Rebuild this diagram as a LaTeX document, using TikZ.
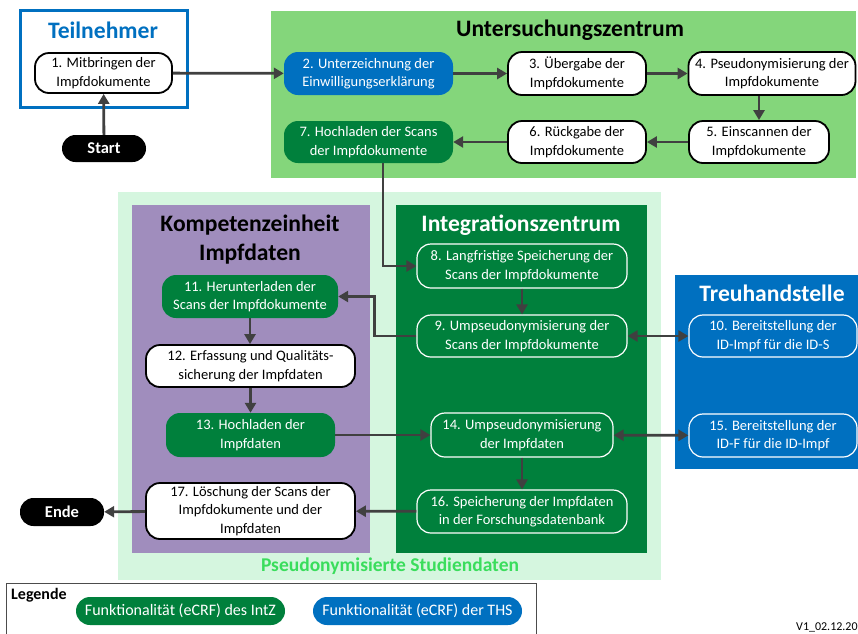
\documentclass[tikz,border=0pt]{standalone}
\usepackage{fontspec}
\setmainfont{Carlito}
\usetikzlibrary{arrows.meta}

\definecolor{uzgreen}{HTML}{84D67B}
\definecolor{mint}{HTML}{D5F6DF}
\definecolor{violet}{HTML}{A08DBD}
\definecolor{dkgreen}{HTML}{00803C}
\definecolor{thsblue}{HTML}{0070C0}
\definecolor{titlegreen}{HTML}{3ADD5C}
\definecolor{arrowgrey}{HTML}{404040}

\tikzset{
  txt/.style={font=\fontsize{14.5}{18.5}\selectfont, align=center, inner sep=0pt},
  proc/.style={txt, draw=black, line width=1.8pt, fill=white, rounded corners=14pt},
  intz/.style={txt, fill=dkgreen, text=white, rounded corners=14pt},
  intzb/.style={intz, draw=white, line width=1.2pt},
  ths/.style={txt, fill=thsblue, text=white, rounded corners=14pt},
  thsb/.style={ths, draw=white, line width=1.2pt},
  terminal/.style={txt, fill=black, text=white, font=\fontsize{16.5}{20}\selectfont\bfseries, rounded corners=13.5pt},
  legpill/.style={font=\fontsize{16}{19}\selectfont, minimum width=209pt, minimum height=28pt, rounded corners=14pt},
  areatitle/.style={font=\fontsize{23.6}{28}\selectfont\bfseries, align=center, inner sep=0pt},
  arr/.style={draw=arrowgrey, line width=2.8pt, -{Triangle[length=10pt,width=11pt]}},
  darr/.style={draw=arrowgrey, line width=2.8pt, {Triangle[length=10pt,width=11pt]}-{Triangle[length=10pt,width=11pt]}},
}

\begin{document}
\begin{tikzpicture}[x=1pt,y=-1pt]
\useasboundingbox (0,0) rectangle (858,633);

% organisational areas
\fill[uzgreen] (271,11) rectangle (856,178);
\draw[thsblue, line width=3pt] (20,10) rectangle (187,107);
\fill[mint] (118,192) rectangle (661,580);
\fill[violet] (132,205) rectangle (370,553);
\fill[dkgreen] (396,205) rectangle (647,553);
\fill[thsblue] (675,275) rectangle (858,469);

\node[areatitle, text=thsblue] (tTN) at (103,30) {Teilnehmer};
\node[areatitle] (tUZ) at (570,30) {Untersuchungszentrum};
\node[areatitle] (tKE) at (250,240) {Kompetenzeinheit\\[1pt]Impfdaten};
\node[areatitle, text=white] (tIZ) at (521,225) {Integrationszentrum};
\node[areatitle, text=white] (tTH) at (772,293) {Treuhandstelle};
\node[areatitle, text=titlegreen, font=\fontsize{19.5}{23}\selectfont\bfseries] (tPS) at (390,566) {Pseudonymisierte Studiendaten};

% process steps
\node[proc, minimum width=137pt, minimum height=40pt] (n1) at (103.5,73) {1. Mitbringen der\\Impfdokumente};
\node[terminal, minimum width=84pt, minimum height=27pt] (start) at (104,148.5) {Start};
\node[ths, minimum width=169pt, minimum height=43pt] (n2) at (368.5,73.5) {2. Unterzeichnung der\\Einwilligungserklärung};
\node[proc, minimum width=138pt, minimum height=43pt] (n3) at (577,73.5) {3. Übergabe der\\Impfdokumente};
\node[proc, minimum width=167pt, minimum height=43pt] (n4) at (772,73.5) {4. Pseudonymisierung der\\Impfdokumente};
\node[proc, minimum width=140pt, minimum height=42pt] (n5) at (759,142) {5. Einscannen der\\Impfdokumente};
\node[proc, minimum width=138pt, minimum height=42pt] (n6) at (577,142) {6. Rückgabe der\\Impfdokumente};
\node[intz, minimum width=169pt, minimum height=42pt] (n7) at (368.5,142) {7. Hochladen der Scans\\der Impfdokumente};
\node[intzb, minimum width=210pt, minimum height=44pt] (n8) at (522,266) {8. Langfristige Speicherung der\\Scans der Impfdokumente};
\node[intzb, minimum width=210pt, minimum height=42pt] (n9) at (522,336) {9. Umpseudonymisierung der\\Scans der Impfdokumente};
\node[thsb, minimum width=168pt, minimum height=42pt] (n10) at (773,336) {10. Bereitstellung der\\ID-Impf für die ID-S};
\node[intz, minimum width=176pt, minimum height=43pt] (n11) at (250,296.5) {11. Herunterladen der\\Scans der Impfdokumente};
\node[proc, minimum width=209pt, minimum height=42pt] (n12) at (250.5,366) {12. Erfassung und Qualitäts-\\sicherung der Impfdaten};
\node[intz, minimum width=169pt, minimum height=44pt] (n13) at (250.5,435) {13. Hochladen der\\Impfdaten};
\node[intzb, minimum width=182pt, minimum height=44pt] (n14) at (522,435) {14. Umpseudonymisierung\\der Impfdaten};
\node[thsb, minimum width=168pt, minimum height=43pt] (n15) at (773,435.5) {15. Bereitstellung der\\ID-F für die ID-Impf};
\node[intzb, minimum width=210pt, minimum height=43pt] (n16) at (522,511.5) {16. Speicherung der Impfdaten\\in der Forschungsdatenbank};
\node[proc, minimum width=209pt, minimum height=56pt] (n17) at (250.5,511) {17. Löschung der Scans der\\Impfdokumente und der\\Impfdaten};
\node[terminal, minimum width=84pt, minimum height=28pt] (ende) at (62,512) {Ende};

% flow
\draw[arr] (start) -- (n1);
\draw[arr] (n1) -- (n2);
\draw[arr] (n2) -- (n3);
\draw[arr] (n3) -- (n4);
\draw[arr] (n4.south -| n5) -- (n5);
\draw[arr] (n5) -- (n6);
\draw[arr] (n6) -- (n7);
\draw[arr] (n7.south) ++(14.5,0) |- (n8.west);
\draw[arr] (n8) -- (n9);
\draw[arr] (n9.west) -- ++(-42,0) |- (n11.east);
\draw[darr] (n9) -- (n10);
\draw[arr] (n11) -- (n11 |- n12.north);
\draw[arr] (n12) -- (n12 |- n13.north);
\draw[arr] (n13) -- (n14);
\draw[darr] (n14) -- (n15);
\draw[arr] (n14) -- (n16);
\draw[arr] (n16) -- (n17);
\draw[arr] (n17) -- (ende);

% legend
\draw[draw=black!70, line width=0.8pt, fill=white] (6,583) rectangle (536,650);
\node[anchor=north west, inner sep=0pt, font=\fontsize{16}{19}\selectfont\bfseries] (leg) at (11,588) {Legende};
\node[intz, legpill] (legI) at (180.5,611) {Funktionalität (eCRF) des IntZ};
\node[ths, legpill] (legT) at (417.5,611) {Funktionalität (eCRF) der THS};

\node[anchor=base west, inner sep=0pt, font=\fontsize{12}{14}\selectfont] (ver) at (796,630) {V1\_02.12.20};
\end{tikzpicture}
\end{document}
